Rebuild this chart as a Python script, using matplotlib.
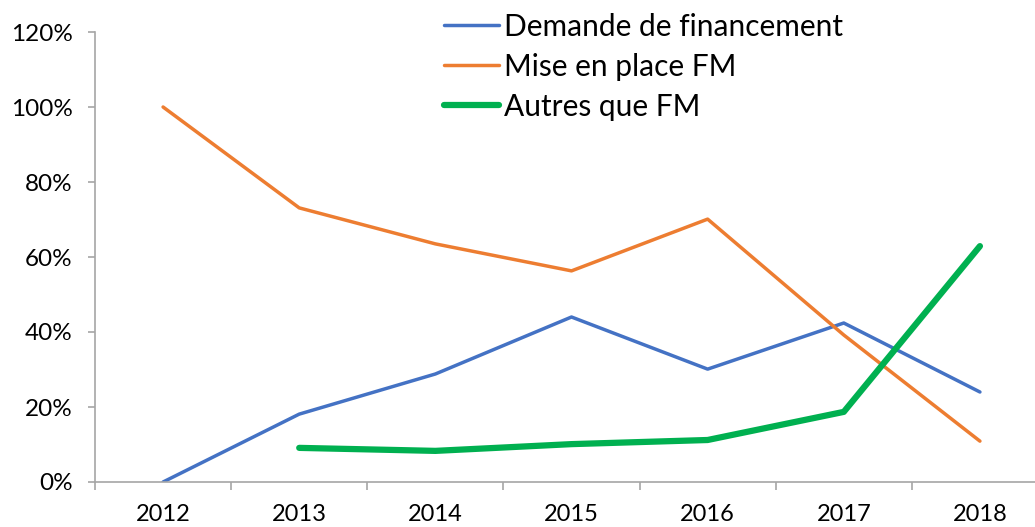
import numpy as np
from matplotlib import pyplot as plt
import matplotlib.ticker as ticker

plt.rcParams['font.family'] = ['Lato', 'DejaVu Sans']

years = ["2012", "2013", "2014", "2015", "2016", "2017", "2018"]
demande = [0.0, 18.1, 28.8, 44.0, 30.1, 42.4, 24.0]
mise_en_place = [100.0, 73.1, 63.5, 56.3, 70.1, 39.2, 10.9]
autres = [np.nan, 9.1, 8.3, 10.1, 11.2, 18.7, 62.9]

colors = ["#4472C4", "#ED7D31", "#00B050"]
grey = "#A6A6A6"

fig = plt.figure(figsize=(10.35, 5.27), dpi=100)
ax = fig.add_axes([95 / 1035, 45 / 527, 953 / 1035, 450 / 527])

x = np.arange(len(years))
l1, = ax.plot(x, demande, color=colors[0], lw=2.5, solid_capstyle="round", label="Demande de financement")
l2, = ax.plot(x, mise_en_place, color=colors[1], lw=2.5, solid_capstyle="round", label="Mise en place FM")
l3, = ax.plot(x, autres, color=colors[2], lw=4.5, solid_capstyle="round", label="Autres que FM")

ax.set_xlim(-0.5, len(years) - 0.5)
ax.set_ylim(0, 120)
ax.yaxis.set_major_locator(ticker.MultipleLocator(20))
ax.yaxis.set_major_formatter(ticker.FuncFormatter(lambda v, p: f"{v:.0f}%"))

ax.set_xticks(x)
ax.set_xticklabels(years)
ax.xaxis.set_minor_locator(ticker.FixedLocator(np.arange(-0.5, len(years), 1)))
ax.tick_params(axis="x", which="major", length=0, pad=16, labelsize=17)
ax.tick_params(axis="x", which="minor", length=5.8, color=grey, width=1.2)
ax.tick_params(axis="y", length=5, color=grey, width=1.2, pad=11, labelsize=17.5)

for side in ["top", "right"]:
    ax.spines[side].set_visible(False)
for side in ["left", "bottom"]:
    ax.spines[side].set_color(grey)
    ax.spines[side].set_linewidth(1.2)

fig.legend(handles=[l1, l2, l3], loc="upper left", bbox_to_anchor=(429 / 1035, 1 + 2 / 527),
           frameon=False, fontsize=21.5, handlelength=1.85, handletextpad=0.17,
           labelspacing=0.4, borderpad=0)

plt.savefig("out.png", dpi=100)
